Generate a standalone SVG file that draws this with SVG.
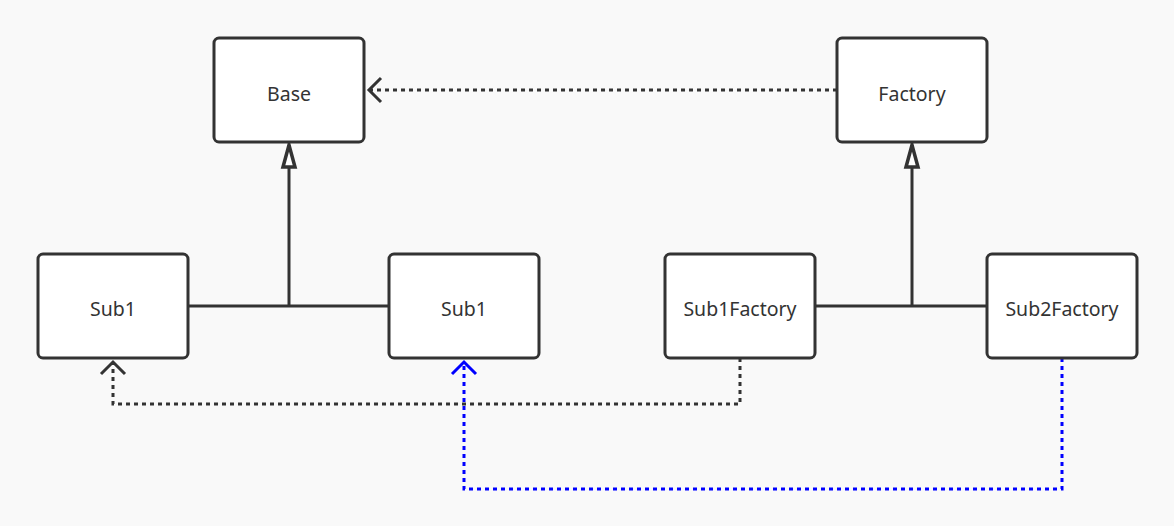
<svg xmlns="http://www.w3.org/2000/svg" width="1174" height="526" viewBox="0 0 1174 526">
<style>
.box{fill:#fff;stroke:#333;stroke-width:3}
.lbl{font-family:"Segoe UI","Noto Sans","DejaVu Sans",sans-serif;font-size:19.5px;fill:#333;text-anchor:middle;dominant-baseline:central}
.solid{fill:none;stroke:#333;stroke-width:3}
.dot{fill:none;stroke:#333;stroke-width:3;stroke-dasharray:4 4}
.blue{fill:none;stroke:#0000ff;stroke-width:3;stroke-dasharray:4 4}
</style>
<defs>
<marker id="tri" viewBox="0 0 28 18" refX="25" refY="9" markerWidth="28" markerHeight="18" markerUnits="userSpaceOnUse" orient="auto">
<path d="M3 3 L25 9 L3 15 Z" fill="#fff" stroke="#333" stroke-width="3.5" stroke-linejoin="miter"/>
</marker>
<marker id="open" viewBox="0 0 18 28" refX="15" refY="14" markerWidth="18" markerHeight="28" markerUnits="userSpaceOnUse" orient="auto">
<path d="M3 2 L15 14 L3 26" fill="none" stroke="#333" stroke-width="3"/>
</marker>
<marker id="openb" viewBox="0 0 18 28" refX="15" refY="14" markerWidth="18" markerHeight="28" markerUnits="userSpaceOnUse" orient="auto">
<path d="M3 2 L15 14 L3 26" fill="none" stroke="#0000ff" stroke-width="3"/>
</marker>
</defs>
<rect width="1174" height="526" fill="#f9f9f9"/>
<g id="connectors">
<path class="solid" d="M188 306 H389"/>
<path class="solid" d="M289 306 V145" marker-end="url(#tri)"/>
<path class="solid" d="M815 306 H987"/>
<path class="solid" d="M912 306 V145" marker-end="url(#tri)"/>
<path class="dot" d="M837 90 H369" marker-end="url(#open)"/>
<path class="dot" d="M740 358 V404 H113 V362" marker-end="url(#open)"/>
<path class="blue" d="M1062 358 V489 H464 V362" marker-end="url(#openb)"/>
</g>
<g id="base"><rect class="box" x="214" y="38" width="150" height="104" rx="5"/><text class="lbl" x="289" y="93">Base</text></g>
<g id="factory"><rect class="box" x="837" y="38" width="150" height="104" rx="5"/><text class="lbl" x="912" y="93">Factory</text></g>
<g id="sub1a"><rect class="box" x="38" y="254" width="150" height="104" rx="5"/><text class="lbl" x="113" y="308">Sub1</text></g>
<g id="sub1b"><rect class="box" x="389" y="254" width="150" height="104" rx="5"/><text class="lbl" x="464" y="308">Sub1</text></g>
<g id="sub1factory"><rect class="box" x="665" y="254" width="150" height="104" rx="5"/><text class="lbl" x="740" y="308">Sub1Factory</text></g>
<g id="sub2factory"><rect class="box" x="987" y="254" width="150" height="104" rx="5"/><text class="lbl" x="1062" y="308">Sub2Factory</text></g>
</svg>
